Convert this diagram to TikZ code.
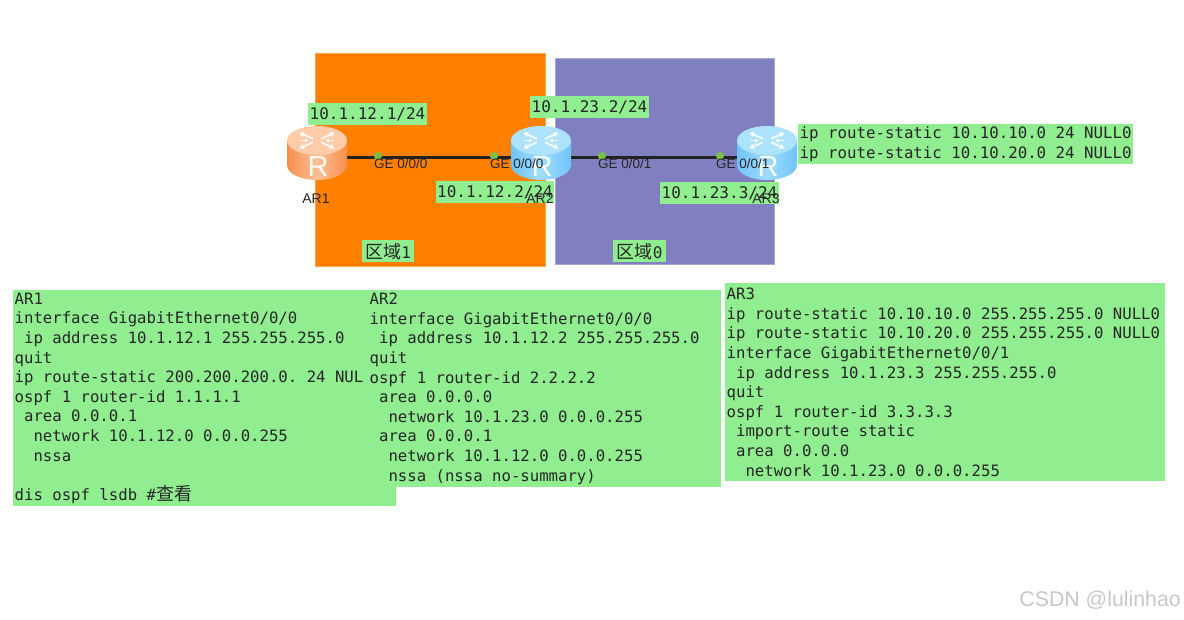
\documentclass[tikz,border=0pt]{standalone}
\usepackage{fontspec}
\usetikzlibrary{arrows.meta}
\setmainfont{Liberation Sans}
\setmonofont[WordSpace={1,0,0}]{DejaVu Sans Mono}
\newfontfamily\cjk{Noto Sans CJK SC}
\definecolor{labelgreen}{HTML}{90EE90}
\definecolor{orangearea}{HTML}{FF8000}
\definecolor{purplearea}{HTML}{8080C0}
\definecolor{linkdark}{HTML}{222222}
\definecolor{portgreen}{HTML}{7AC143}
\definecolor{ar1side}{HTML}{F58F4E}
\definecolor{ar1mid}{HTML}{FFC096}
\definecolor{ar1top}{HTML}{FFCBA8}
\definecolor{ar2side}{HTML}{70C4FA}
\definecolor{ar2mid}{HTML}{A0DCFF}
\definecolor{ar2top}{HTML}{ADE3FF}
\tikzset{
	greenbox/.style={fill=labelgreen, inner xsep=1.5pt, inner ysep=2.7pt, font=\ttfamily\fontsize{15.65}{19.6}\selectfont, text=black!85, align=flush left, anchor=north west},
	iplabel/.style={greenbox, inner ysep=0pt, minimum height=22pt, font=\ttfamily\fontsize{16}{19.6}\selectfont},
	portlabel/.style={font=\fontsize{13.5}{13.5}\selectfont, text=black!85, inner sep=0pt},
	routerlabel/.style={font=\fontsize{14}{14}\selectfont, text=black!85, inner sep=0pt},
	routerbox/.style={minimum width=60pt, minimum height=10pt, inner sep=0pt},
	router/.pic={
		\shade[left color=#1side, right color=#1side, middle color=#1mid] (-30,-12) -- (-30,12) arc [start angle=180, end angle=0, x radius=30, y radius=15] -- (30,-12) -- cycle;
		\fill[#1top] (0,-12.5) ellipse [x radius=30, y radius=14.5];
		% arrows of the icon
		\foreach \a in {35,145,215,325}
			\draw[white!90!#1top, line width=1.8pt, -{Latex[length=5pt,width=6pt]}] ([shift={(0,-12.5)}]\a:5 and 3) -- ([shift={(0,-12.5)}]\a:22 and 14);
		\foreach \a in {0,180}
			\draw[white!90!#1top, line width=1.5pt, -{Latex[length=4pt,width=5pt]}] ([shift={(0,-12.5)}]\a:17 and 0) -- ([shift={(0,-12.5)}]\a:8 and 0);
		\node[white!92!#1top, font=\fontsize{29}{29}\selectfont, inner sep=0pt] at (1,14) {R};
	}
}
\begin{document}
\begin{tikzpicture}[x=1pt, y=-1pt]
		\useasboundingbox (0,0) rectangle (1184,619);
		% areas
		\fill[orangearea, draw=orangearea!70!white] (315.5,53.5) rectangle (545.5,266.5);
		\fill[purplearea, draw=purplearea!70!white] (555.5,58.5) rectangle (774,264.5);

		% links under the routers
		\node[routerbox] (ar1) at (317,157) {};
		\node[routerbox] (ar2) at (541,157) {};
		\node[routerbox] (ar3) at (767,157) {};
		\draw[linkdark, line width=3pt] (ar1) -- (ar2);
		\draw[linkdark, line width=3pt] (ar2) -- (ar3);

		% routers
		\pic at (317,153) {router=ar1};
		\pic at (541,153) {router=ar2};
		\pic at (767,153) {router=ar2};

		% ports
		\fill[portgreen] (378,156) circle [radius=4];
		\fill[portgreen] (494,156) circle [radius=4];
		\fill[portgreen] (602,156) circle [radius=4];
		\fill[portgreen] (720,156) circle [radius=4];
		\node[portlabel, anchor=west] (p1) at (374,164) {GE 0/0/0};
		\node[portlabel, anchor=west] (p2) at (490,164) {GE 0/0/0};
		\node[portlabel, anchor=west] (p3) at (598,164) {GE 0/0/1};
		\node[portlabel, anchor=west] (p4) at (716,164) {GE 0/0/1};

		% ip labels
		\node[iplabel] (ip1) at (308,103) {10.1.12.1/24};
		\node[iplabel] (ip2) at (530,96) {10.1.23.2/24};
		\node[iplabel] (ip3) at (435.5,181) {10.1.12.2/24};
		\node[iplabel] (ip4) at (660,182) {10.1.23.3/24};
		\node[routerlabel] (name1) at (316,198.5) {AR1};
		\node[routerlabel] (name2) at (540,198.5) {AR2};
		\node[routerlabel] (name3) at (766,198.5) {AR3};

		% area names
		\node[iplabel, minimum width=52pt] (area1) at (362,240) {{\cjk\fontsize{18}{18}\selectfont 区域}1};
		\node[iplabel, minimum width=53pt] (area0) at (613,240) {{\cjk\fontsize{18}{18}\selectfont 区域}0};

		% static routes
		\node[greenbox, font=\ttfamily\fontsize{15.75}{19.6}\selectfont] (statics) at (798,124) {ip route-static 10.10.10.0 24 NULL0\\ip route-static 10.10.20.0 24 NULL0};

		% configs
		\node[greenbox, text width=380pt, minimum height=216pt] (cfg1) at (13,290) {AR1\\interface GigabitEthernet0/0/0\\\ ip address 10.1.12.1 255.255.255.0\\quit\\ip route-static 200.200.200.0. 24 NUL\\ospf 1 router-id 1.1.1.1\\\ area 0.0.0.1\\\ \ network 10.1.12.0 0.0.0.255\\\ \ nssa\\\mbox{}\\dis ospf lsdb \#{\cjk\fontsize{18}{18}\selectfont 查看}};
		\node[greenbox, text width=350pt, minimum height=197pt] (cfg2) at (368,290) {AR2\\interface GigabitEthernet0/0/0\\\ ip address 10.1.12.2 255.255.255.0\\quit\\ospf 1 router-id 2.2.2.2\\\ area 0.0.0.0\\\ \ network 10.1.23.0 0.0.0.255\\\ area 0.0.0.1\\\ \ network 10.1.12.0 0.0.0.255\\\ \ nssa (nssa no-summary)};
		\node[greenbox, text width=437pt, minimum height=198pt] (cfg3) at (725,283) {AR3\\ip route-static 10.10.10.0 255.255.255.0 NULL0\\ip route-static 10.10.20.0 255.255.255.0 NULL0\\interface GigabitEthernet0/0/1\\\ ip address 10.1.23.3 255.255.255.0\\quit\\ospf 1 router-id 3.3.3.3\\\ import-route static\\\ area 0.0.0.0\\\ \ network 10.1.23.0 0.0.0.255};

		% watermark
		\node[font=\fontsize{21.3}{21.3}\selectfont, text=black!22, inner sep=0pt, anchor=east] (mark) at (1181,600) {CSDN @lulinhao};
	\end{tikzpicture}
\end{document}
